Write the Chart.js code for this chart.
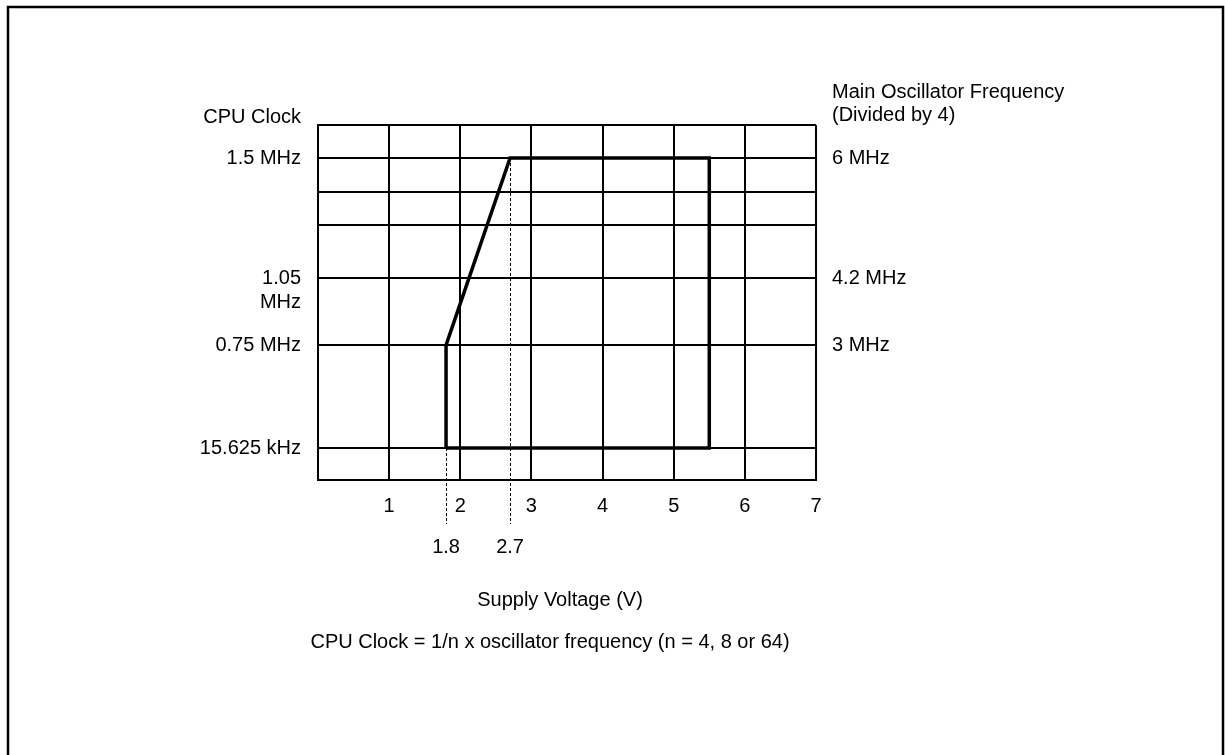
<!DOCTYPE html>
<html>
<head>
<meta charset="utf-8">
<title>CPU Clock vs Supply Voltage</title>
<script src="https://cdn.jsdelivr.net/npm/chart.js@4.4.1/dist/chart.umd.min.js"></script>
<style>
    html, body { margin: 0; padding: 0; background: #fff; }
    #wrap { position: relative; width: 1225px; height: 755px; }
</style>
</head>
<body>
<div id="wrap"><canvas id="clockChart"></canvas></div>
<script>
// supply voltage axis (V)
const voltTicks = [0, 1, 2, 3, 4, 5, 6, 7];
const markVolts = [1.8, 2.7];
const markFrom = [0.015625, 1.5];

// operating area outline: voltage (V) / CPU clock (MHz)
const areaVolts = [1.8, 1.8, 2.7, 5.5, 5.5, 1.8];
const areaClock = [0.015625, 0.75, 1.5, 1.5, 0.015625, 0.015625];

// left axis: CPU clock (MHz)
const clockTicks = [0, 0.015625, 0.75, 1.05, 1.25, 1.375, 1.5, 1.625];
const clockLabels = ['', '15.625 kHz', '0.75 MHz', ['', '1.05', 'MHz'], '', '', '1.5 MHz', ''];

// right axis: main oscillator frequency (MHz)
const oscTicks = [3, 4.2, 6];
const oscLabels = ['3 MHz', '4.2 MHz', '6 MHz'];

// the drawing's axis is not linear, so it is drawn in pieces
const breakVals = [0, 0.015625, 0.75, 1.05, 1.25, 1.375, 1.5, 1.625];
const breakPos = [0, 0.09, 0.38, 0.569, 0.718, 0.811, 0.907, 1];

class BreakScale extends Chart.LinearScale {
    getPixelForValue(value) {
        const v = value / (this.options.factor || 1);
        let i = 1;
        while (i < breakVals.length - 1 && v > breakVals[i]) i++;
        const t = (v - breakVals[i - 1]) / (breakVals[i] - breakVals[i - 1]);
        const dec = breakPos[i - 1] + t * (breakPos[i] - breakPos[i - 1]);
        return this.getPixelForDecimal(dec);
    }
}
BreakScale.id = 'breaks';
BreakScale.defaults = {};
Chart.register(BreakScale);

Chart.defaults.font.family = '"Liberation Sans", Arial, sans-serif';
Chart.defaults.font.size = 20;
Chart.defaults.color = '#000';

const FONT = '20px "Liberation Sans", Arial, sans-serif';

const textPlugin = {
    id: 'textPlugin',
    beforeDraw(chart) {
        const ctx = chart.ctx;
        ctx.save();
        ctx.strokeStyle = '#000';
        ctx.lineWidth = 2.5;
        ctx.strokeRect(8, 7, 1215, 820);
        ctx.restore();
    },
    afterDatasetsDraw(chart) {
        const ctx = chart.ctx;
        const x = chart.scales.x;
        const y = chart.scales.y;
        ctx.save();
        ctx.strokeStyle = '#000';
        ctx.lineWidth = 1;
        ctx.setLineDash([3, 2]);
        markVolts.forEach((v, i) => {
            const px = Math.round(x.getPixelForValue(v)) + 0.5;
            ctx.beginPath();
            ctx.moveTo(px, y.getPixelForValue(markFrom[i]));
            ctx.lineTo(px, x.bottom + 4);
            ctx.stroke();
        });
        ctx.restore();
    },
    afterDraw(chart) {
        const ctx = chart.ctx;
        const area = chart.chartArea;
        ctx.save();
        ctx.font = FONT;
        ctx.fillStyle = '#000';
        ctx.textBaseline = 'middle';
        ctx.textAlign = 'right';
        ctx.fillText('CPU Clock', area.left - 17, 117);
        ctx.textAlign = 'left';
        ctx.fillText('Main Oscillator Frequency', area.right + 16, 92);
        ctx.fillText('(Divided by 4)', area.right + 16, 115);
        ctx.textAlign = 'center';
        ctx.fillText('Supply Voltage (V)', 560, 600);
        ctx.fillText('CPU Clock = 1/n x oscillator frequency (n = 4, 8 or 64)', 550, 642);
        ctx.restore();
    }
};

const points = areaVolts.map((v, i) => ({ x: v, y: areaClock[i] }));

new Chart(document.getElementById('clockChart'), {
    type: 'scatter',
    data: {
        datasets: [{
            data: points,
            showLine: true,
            borderColor: '#000',
            borderWidth: 3.5,
            pointRadius: 0,
            tension: 0,
            fill: false
        }]
    },
    options: {
        responsive: true,
        maintainAspectRatio: false,
        animation: false,
        layout: { padding: { top: 125, left: 0, right: 0, bottom: 0 } },
        plugins: {
            legend: { display: false },
            tooltip: { enabled: false }
        },
        scales: {
            x: {
                type: 'linear',
                position: 'bottom',
                weight: 0,
                min: 0,
                max: 7,
                afterBuildTicks: s => { s.ticks = voltTicks.map(v => ({ value: v })); },
                afterFit: s => { s.height = 40; },
                grid: { color: '#000', lineWidth: 2, drawTicks: false },
                border: { color: '#000', width: 2 },
                ticks: {
                    padding: 14,
                    autoSkip: false,
                    maxRotation: 0,
                    callback: v => (v === 0 ? '' : String(v))
                }
            },
            x2: {
                type: 'linear',
                position: 'bottom',
                weight: 1,
                min: 0,
                max: 7,
                afterBuildTicks: s => { s.ticks = markVolts.map(v => ({ value: v })); },
                afterFit: s => { s.height = 235; },
                grid: { display: false, drawTicks: false },
                border: { display: false },
                ticks: {
                    padding: 15,
                    autoSkip: false,
                    maxRotation: 0,
                    callback: v => String(v)
                }
            },
            y: {
                type: 'breaks',
                position: 'left',
                min: 0,
                max: 1.625,
                afterBuildTicks: s => { s.ticks = clockTicks.map(v => ({ value: v })); },
                afterFit: s => { s.width = 318; },
                grid: { color: '#000', lineWidth: 2, drawTicks: false },
                border: { color: '#000', width: 2 },
                ticks: {
                    padding: 17,
                    autoSkip: false,
                    callback: (v, i) => clockLabels[i]
                }
            },
            y2: {
                type: 'breaks',
                position: 'right',
                factor: 4,
                min: 0,
                max: 6.5,
                afterBuildTicks: s => { s.ticks = oscTicks.map(v => ({ value: v })); },
                afterFit: s => { s.width = 409; },
                grid: { display: false, drawTicks: false },
                border: { display: false },
                ticks: {
                    padding: 16,
                    autoSkip: false,
                    callback: (v, i) => oscLabels[i]
                }
            }
        }
    },
    plugins: [textPlugin]
});
</script>
</body>
</html>
